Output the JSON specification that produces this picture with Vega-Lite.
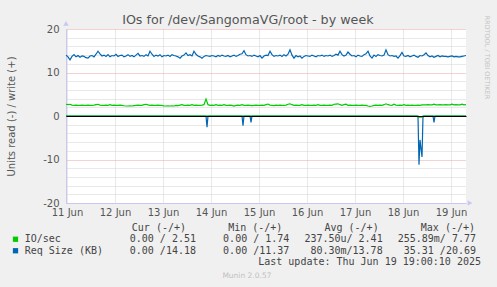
{
"$schema": "https://vega.github.io/schema/vega-lite/v6.json",
"background": "#f0f0f0",
"padding": {"left": 6, "top": 13, "right": 10, "bottom": 10},
"title": {"text": "IOs for /dev/SangomaVG/root - by week", "font": "DejaVu Sans", "fontSize": 12.7, "fontWeight": "normal", "color": "#555555", "anchor": "middle", "offset": -11.5},
"config": {"view": {"stroke": null}, "font": "DejaVu Sans"},
"bounds": "flush",
"spacing": 19,
"datasets": {
"writes": [
{"t":"2025-06-11T11:30","io":2.7,"req":14.0},{"t":"2025-06-11T12:30","io":2.6,"req":13.6},{"t":"2025-06-11T13:30","io":2.7,"req":12.9},{"t":"2025-06-11T14:30","io":2.5,"req":13.7},{"t":"2025-06-11T15:30","io":2.45,"req":14.1},{"t":"2025-06-11T16:30","io":2.5,"req":13.6},{"t":"2025-06-11T17:30","io":2.45,"req":13.9},{"t":"2025-06-11T18:30","io":2.45,"req":13.5},{"t":"2025-06-11T19:30","io":2.5,"req":13.8},{"t":"2025-06-11T20:30","io":2.45,"req":13.7},{"t":"2025-06-11T21:30","io":2.45,"req":13.4},{"t":"2025-06-11T22:30","io":2.5,"req":13.3},{"t":"2025-06-11T23:30","io":2.45,"req":13.8},
{"t":"2025-06-12T00:30","io":2.45,"req":13.9},{"t":"2025-06-12T01:30","io":2.5,"req":13.6},{"t":"2025-06-12T02:30","io":2.6,"req":14.2},{"t":"2025-06-12T03:30","io":2.7,"req":14.9},{"t":"2025-06-12T04:30","io":2.5,"req":14.3},{"t":"2025-06-12T05:30","io":2.45,"req":13.8},{"t":"2025-06-12T06:30","io":2.45,"req":14.0},{"t":"2025-06-12T07:30","io":2.5,"req":13.7},{"t":"2025-06-12T08:30","io":2.45,"req":14.1},{"t":"2025-06-12T09:30","io":2.6,"req":13.6},{"t":"2025-06-12T10:30","io":2.45,"req":13.9},{"t":"2025-06-12T11:30","io":2.5,"req":13.8},{"t":"2025-06-12T12:30","io":2.45,"req":14.2},{"t":"2025-06-12T13:30","io":2.45,"req":13.7},{"t":"2025-06-12T14:30","io":2.5,"req":13.9},{"t":"2025-06-12T15:30","io":2.45,"req":14.0},{"t":"2025-06-12T16:30","io":2.35,"req":13.6},{"t":"2025-06-12T17:30","io":2.3,"req":13.8},{"t":"2025-06-12T18:30","io":2.3,"req":14.1},{"t":"2025-06-12T19:30","io":2.35,"req":13.7},{"t":"2025-06-12T20:30","io":2.3,"req":13.9},{"t":"2025-06-12T21:30","io":2.4,"req":13.6},{"t":"2025-06-12T22:30","io":2.45,"req":14.0},{"t":"2025-06-12T23:30","io":2.5,"req":14.4},
{"t":"2025-06-13T00:30","io":2.45,"req":13.8},{"t":"2025-06-13T01:30","io":2.45,"req":13.9},{"t":"2025-06-13T02:30","io":2.6,"req":13.7},{"t":"2025-06-13T03:30","io":2.7,"req":14.1},{"t":"2025-06-13T04:30","io":2.55,"req":13.8},{"t":"2025-06-13T05:30","io":2.45,"req":14.9},{"t":"2025-06-13T06:30","io":2.5,"req":14.2},{"t":"2025-06-13T07:30","io":2.45,"req":13.7},{"t":"2025-06-13T08:30","io":2.45,"req":14.0},{"t":"2025-06-13T09:30","io":2.5,"req":13.8},{"t":"2025-06-13T10:30","io":2.45,"req":14.1},{"t":"2025-06-13T11:30","io":2.45,"req":13.6},{"t":"2025-06-13T12:30","io":2.3,"req":13.9},{"t":"2025-06-13T13:30","io":2.3,"req":13.8},{"t":"2025-06-13T14:30","io":2.35,"req":14.0},{"t":"2025-06-13T15:30","io":2.3,"req":13.7},{"t":"2025-06-13T16:30","io":2.35,"req":14.1},{"t":"2025-06-13T17:30","io":2.3,"req":13.9},{"t":"2025-06-13T18:30","io":2.45,"req":13.8},{"t":"2025-06-13T19:30","io":2.4,"req":13.6},{"t":"2025-06-13T20:30","io":2.5,"req":13.3},{"t":"2025-06-13T21:30","io":2.6,"req":13.8},{"t":"2025-06-13T22:30","io":2.45,"req":14.0},{"t":"2025-06-13T23:30","io":2.45,"req":14.5},
{"t":"2025-06-14T00:30","io":2.5,"req":13.9},{"t":"2025-06-14T01:30","io":2.45,"req":14.1},{"t":"2025-06-14T02:30","io":2.6,"req":13.8},{"t":"2025-06-14T03:30","io":2.45,"req":14.9},{"t":"2025-06-14T04:30","io":2.5,"req":14.2},{"t":"2025-06-14T05:30","io":2.45,"req":13.8},{"t":"2025-06-14T06:30","io":2.45,"req":13.6},{"t":"2025-06-14T07:30","io":2.5,"req":13.3},{"t":"2025-06-14T08:30","io":2.6,"req":13.7},{"t":"2025-06-14T09:30","io":3.9,"req":13.9},{"t":"2025-06-14T10:30","io":2.6,"req":13.8},{"t":"2025-06-14T11:30","io":2.45,"req":13.7},{"t":"2025-06-14T12:30","io":2.5,"req":13.9},{"t":"2025-06-14T13:30","io":2.45,"req":13.8},{"t":"2025-06-14T14:30","io":2.6,"req":13.6},{"t":"2025-06-14T15:30","io":2.45,"req":13.9},{"t":"2025-06-14T16:30","io":2.5,"req":13.7},{"t":"2025-06-14T17:30","io":2.45,"req":14.0},{"t":"2025-06-14T18:30","io":2.6,"req":13.8},{"t":"2025-06-14T19:30","io":2.45,"req":13.7},{"t":"2025-06-14T20:30","io":2.45,"req":13.9},{"t":"2025-06-14T21:30","io":2.5,"req":13.6},{"t":"2025-06-14T22:30","io":2.45,"req":13.8},{"t":"2025-06-14T23:30","io":2.3,"req":14.0},
{"t":"2025-06-15T00:30","io":2.45,"req":13.7},{"t":"2025-06-15T01:30","io":2.5,"req":13.9},{"t":"2025-06-15T02:30","io":2.45,"req":14.2},{"t":"2025-06-15T03:30","io":2.6,"req":14.3},{"t":"2025-06-15T04:30","io":2.45,"req":15.0},{"t":"2025-06-15T05:30","io":2.45,"req":14.1},{"t":"2025-06-15T06:30","io":2.5,"req":13.8},{"t":"2025-06-15T07:30","io":2.45,"req":13.9},{"t":"2025-06-15T08:30","io":2.4,"req":13.7},{"t":"2025-06-15T09:30","io":2.45,"req":14.0},{"t":"2025-06-15T10:30","io":2.5,"req":13.8},{"t":"2025-06-15T11:30","io":2.45,"req":13.6},{"t":"2025-06-15T12:30","io":2.45,"req":13.9},{"t":"2025-06-15T13:30","io":2.5,"req":13.3},{"t":"2025-06-15T14:30","io":2.45,"req":13.8},{"t":"2025-06-15T15:30","io":2.6,"req":14.0},{"t":"2025-06-15T16:30","io":2.75,"req":13.9},{"t":"2025-06-15T17:30","io":2.5,"req":14.9},{"t":"2025-06-15T18:30","io":2.45,"req":14.1},{"t":"2025-06-15T19:30","io":2.4,"req":13.7},{"t":"2025-06-15T20:30","io":2.5,"req":13.9},{"t":"2025-06-15T21:30","io":2.45,"req":13.8},{"t":"2025-06-15T22:30","io":2.5,"req":14.0},{"t":"2025-06-15T23:30","io":2.45,"req":13.7},
{"t":"2025-06-16T00:30","io":2.45,"req":14.1},{"t":"2025-06-16T01:30","io":2.5,"req":13.8},{"t":"2025-06-16T02:30","io":2.7,"req":14.2},{"t":"2025-06-16T03:30","io":2.8,"req":15.2},{"t":"2025-06-16T04:30","io":2.6,"req":14.0},{"t":"2025-06-16T05:30","io":2.45,"req":13.3},{"t":"2025-06-16T06:30","io":2.5,"req":13.9},{"t":"2025-06-16T07:30","io":2.45,"req":13.6},{"t":"2025-06-16T08:30","io":2.45,"req":13.8},{"t":"2025-06-16T09:30","io":2.6,"req":13.3},{"t":"2025-06-16T10:30","io":2.45,"req":13.7},{"t":"2025-06-16T11:30","io":2.45,"req":13.9},{"t":"2025-06-16T12:30","io":2.5,"req":13.8},{"t":"2025-06-16T13:30","io":2.45,"req":13.7},{"t":"2025-06-16T14:30","io":2.45,"req":14.0},{"t":"2025-06-16T15:30","io":2.5,"req":13.8},{"t":"2025-06-16T16:30","io":2.45,"req":13.6},{"t":"2025-06-16T17:30","io":2.6,"req":13.9},{"t":"2025-06-16T18:30","io":2.45,"req":13.8},{"t":"2025-06-16T19:30","io":2.45,"req":14.0},{"t":"2025-06-16T20:30","io":2.5,"req":13.7},{"t":"2025-06-16T21:30","io":2.45,"req":13.9},{"t":"2025-06-16T22:30","io":2.45,"req":13.8},{"t":"2025-06-16T23:30","io":2.5,"req":14.0},
{"t":"2025-06-17T00:30","io":2.45,"req":13.7},{"t":"2025-06-17T01:30","io":2.7,"req":13.9},{"t":"2025-06-17T02:30","io":2.75,"req":14.2},{"t":"2025-06-17T03:30","io":2.8,"req":14.0},{"t":"2025-06-17T04:30","io":2.6,"req":14.9},{"t":"2025-06-17T05:30","io":2.45,"req":14.1},{"t":"2025-06-17T06:30","io":2.6,"req":13.8},{"t":"2025-06-17T07:30","io":2.7,"req":14.0},{"t":"2025-06-17T08:30","io":2.45,"req":14.7},{"t":"2025-06-17T09:30","io":2.5,"req":14.2},{"t":"2025-06-17T10:30","io":2.45,"req":13.8},{"t":"2025-06-17T11:30","io":2.45,"req":13.9},{"t":"2025-06-17T12:30","io":2.5,"req":13.6},{"t":"2025-06-17T13:30","io":2.45,"req":14.0},{"t":"2025-06-17T14:30","io":2.45,"req":13.8},{"t":"2025-06-17T15:30","io":2.5,"req":13.7},{"t":"2025-06-17T16:30","io":2.45,"req":14.1},{"t":"2025-06-17T17:30","io":2.45,"req":14.3},{"t":"2025-06-17T18:30","io":2.3,"req":14.9},{"t":"2025-06-17T19:30","io":2.2,"req":13.8},{"t":"2025-06-17T20:30","io":2.3,"req":13.3},{"t":"2025-06-17T21:30","io":2.45,"req":14.0},{"t":"2025-06-17T22:30","io":2.5,"req":13.7},{"t":"2025-06-17T23:30","io":2.45,"req":14.1},
{"t":"2025-06-18T00:30","io":2.5,"req":13.9},{"t":"2025-06-18T01:30","io":2.45,"req":13.8},{"t":"2025-06-18T02:30","io":2.6,"req":14.0},{"t":"2025-06-18T03:30","io":2.8,"req":15.2},{"t":"2025-06-18T04:30","io":2.6,"req":14.1},{"t":"2025-06-18T05:30","io":2.5,"req":13.8},{"t":"2025-06-18T06:30","io":2.45,"req":13.9},{"t":"2025-06-18T07:30","io":2.7,"req":13.7},{"t":"2025-06-18T08:30","io":2.5,"req":13.8},{"t":"2025-06-18T09:30","io":2.45,"req":13.3},{"t":"2025-06-18T10:30","io":2.5,"req":13.9},{"t":"2025-06-18T11:30","io":2.45,"req":14.6},{"t":"2025-06-18T12:30","io":2.6,"req":13.8},{"t":"2025-06-18T13:30","io":2.45,"req":13.7},{"t":"2025-06-18T14:30","io":2.5,"req":13.9},{"t":"2025-06-18T15:30","io":2.45,"req":13.6},{"t":"2025-06-18T16:30","io":2.5,"req":13.8},{"t":"2025-06-18T17:30","io":2.45,"req":14.0},{"t":"2025-06-18T18:30","io":2.45,"req":13.7},{"t":"2025-06-18T19:30","io":2.5,"req":13.5},{"t":"2025-06-18T20:30","io":2.45,"req":13.9},{"t":"2025-06-18T21:30","io":2.55,"req":13.8},{"t":"2025-06-18T22:30","io":2.55,"req":14.1},{"t":"2025-06-18T23:30","io":2.55,"req":14.5},
{"t":"2025-06-19T00:30","io":2.6,"req":13.9},{"t":"2025-06-19T01:30","io":2.55,"req":13.6},{"t":"2025-06-19T02:30","io":2.55,"req":13.8},{"t":"2025-06-19T03:30","io":2.7,"req":13.5},{"t":"2025-06-19T04:30","io":2.55,"req":13.7},{"t":"2025-06-19T05:30","io":2.55,"req":13.9},{"t":"2025-06-19T06:30","io":2.6,"req":13.6},{"t":"2025-06-19T07:30","io":2.55,"req":13.8},{"t":"2025-06-19T08:30","io":2.55,"req":13.7},{"t":"2025-06-19T09:30","io":2.6,"req":13.7},{"t":"2025-06-19T10:30","io":2.55,"req":13.6},{"t":"2025-06-19T11:30","io":2.55,"req":13.7},{"t":"2025-06-19T12:30","io":2.7,"req":13.8},{"t":"2025-06-19T13:30","io":2.55,"req":13.6},{"t":"2025-06-19T14:30","io":2.6,"req":13.7},{"t":"2025-06-19T15:30","io":2.55,"req":13.6},{"t":"2025-06-19T16:30","io":2.55,"req":13.6},{"t":"2025-06-19T17:30","io":2.7,"req":13.7},{"t":"2025-06-19T18:30","io":2.55,"req":13.8},{"t":"2025-06-19T19:30","io":2.6,"req":13.9}
],
"reads": [
{"t":"2025-06-11T11:30","series":"req","value":0},{"t":"2025-06-14T09:30","series":"req","value":0},{"t":"2025-06-14T10:00","series":"req","value":-2.6},{"t":"2025-06-14T10:30","series":"req","value":0},{"t":"2025-06-15T03:30","series":"req","value":0},{"t":"2025-06-15T04:00","series":"req","value":-2.2},{"t":"2025-06-15T04:30","series":"req","value":0},{"t":"2025-06-15T07:30","series":"req","value":0},{"t":"2025-06-15T08:00","series":"req","value":-1.45},{"t":"2025-06-15T08:30","series":"req","value":0},{"t":"2025-06-18T19:30","series":"req","value":0},{"t":"2025-06-18T20:00","series":"req","value":-11.2},{"t":"2025-06-18T20:30","series":"req","value":-5.5},{"t":"2025-06-18T21:00","series":"req","value":-7.5},{"t":"2025-06-18T21:30","series":"req","value":-9.4},{"t":"2025-06-18T22:00","series":"req","value":0},{"t":"2025-06-19T03:00","series":"req","value":0},{"t":"2025-06-19T03:30","series":"req","value":-1.5},{"t":"2025-06-19T04:00","series":"req","value":0},{"t":"2025-06-19T19:30","series":"req","value":0},
{"t":"2025-06-11T11:30","series":"io","value":0},{"t":"2025-06-18T19:00","series":"io","value":0},{"t":"2025-06-18T19:30","series":"io","value":-0.25},{"t":"2025-06-18T22:00","series":"io","value":-0.25},{"t":"2025-06-18T22:30","series":"io","value":0},{"t":"2025-06-19T19:30","series":"io","value":0}
],
"legendValues": [
{"series":"IO/sec","stat":"Cur","value":"0.00 / 2.51"},{"series":"IO/sec","stat":"Min","value":"0.00 / 1.74"},{"series":"IO/sec","stat":"Avg","value":"237.50u/ 2.41"},{"series":"IO/sec","stat":"Max","value":"255.89m/ 7.77"},
{"series":"Req Size (KB)","stat":"Cur","value":"0.00 /14.18"},{"series":"Req Size (KB)","stat":"Min","value":"0.00 /11.37"},{"series":"Req Size (KB)","stat":"Avg","value":"80.30m/13.78"},{"series":"Req Size (KB)","stat":"Max","value":"35.31 /20.69"}
],
"legendHeaders": [
{"stat":"Cur","header":"Cur (-/+)"},{"stat":"Min","header":"Min (-/+)"},{"stat":"Avg","header":"Avg (-/+)"},{"stat":"Max","header":"Max (-/+)"}
],
"seriesList": [{"series":"IO/sec"},{"series":"Req Size (KB)"}],
"updateLine": [{"text":"Last update: Thu Jun 19 19:00:10 2025"}],
"one": [{}]
},
"vconcat": [
{
"width": 400, "height": 174,
"view": {"fill": "#ffffff", "stroke": null},
"resolve": {"axis": {"y": "independent"}},
"layer": [
{
"data": {"name": "reads"},
"mark": {"type": "line", "strokeWidth": 1.2},
"encoding": {
"x": {"field": "t", "type": "temporal",
 "scale": {"domain": [{"year":2025,"month":6,"date":11,"hours":11,"minutes":30},{"year":2025,"month":6,"date":19,"hours":19,"minutes":30}]},
 "axis": {"title": null,
  "values": [
   {"year":2025,"month":6,"date":11,"hours":12},{"year":2025,"month":6,"date":11,"hours":18},
   {"year":2025,"month":6,"date":12,"hours":0},{"year":2025,"month":6,"date":12,"hours":6},{"year":2025,"month":6,"date":12,"hours":12},{"year":2025,"month":6,"date":12,"hours":18},
   {"year":2025,"month":6,"date":13,"hours":0},{"year":2025,"month":6,"date":13,"hours":6},{"year":2025,"month":6,"date":13,"hours":12},{"year":2025,"month":6,"date":13,"hours":18},
   {"year":2025,"month":6,"date":14,"hours":0},{"year":2025,"month":6,"date":14,"hours":6},{"year":2025,"month":6,"date":14,"hours":12},{"year":2025,"month":6,"date":14,"hours":18},
   {"year":2025,"month":6,"date":15,"hours":0},{"year":2025,"month":6,"date":15,"hours":6},{"year":2025,"month":6,"date":15,"hours":12},{"year":2025,"month":6,"date":15,"hours":18},
   {"year":2025,"month":6,"date":16,"hours":0},{"year":2025,"month":6,"date":16,"hours":6},{"year":2025,"month":6,"date":16,"hours":12},{"year":2025,"month":6,"date":16,"hours":18},
   {"year":2025,"month":6,"date":17,"hours":0},{"year":2025,"month":6,"date":17,"hours":6},{"year":2025,"month":6,"date":17,"hours":12},{"year":2025,"month":6,"date":17,"hours":18},
   {"year":2025,"month":6,"date":18,"hours":0},{"year":2025,"month":6,"date":18,"hours":6},{"year":2025,"month":6,"date":18,"hours":12},{"year":2025,"month":6,"date":18,"hours":18},
   {"year":2025,"month":6,"date":19,"hours":0},{"year":2025,"month":6,"date":19,"hours":6},{"year":2025,"month":6,"date":19,"hours":12},{"year":2025,"month":6,"date":19,"hours":18}
  ],
  "labelExpr": "hours(datum.value) == 12 ? timeFormat(datum.value, '%d %b') : ''",
  "labelOverlap": false, "labelFlush": false,
  "labelFont": "DejaVu Sans", "labelFontSize": 10, "labelColor": "#555555", "labelPadding": 4.5,
  "ticks": false,
  "grid": true, "gridDash": [1, 1], "gridWidth": 1,
  "gridColor": {"condition": {"test": "hours(datum.value) == 0", "value": "#eaa5a5"}, "value": "#d2d2d2"},
  "domainColor": "#c8c8f0", "domainWidth": 1
 }},
"y": {"field": "value", "type": "quantitative",
 "scale": {"domain": [-20, 20], "nice": false},
 "axis": {"title": "Units read (-) / write (+)",
  "values": [-20,-18,-16,-14,-12,-10,-8,-6,-4,-2,0,2,4,6,8,10,12,14,16,18,20],
  "labelExpr": "datum.value % 10 == 0 ? (datum.value < 0 ? '-' + abs(datum.value) : '' + datum.value) : ''",
  "labelFont": "DejaVu Sans", "labelFontSize": 10, "labelColor": "#555555", "labelPadding": 7,
  "ticks": false,
  "grid": true, "gridDash": [1, 1], "gridWidth": 1,
  "gridColor": {"condition": {"test": "datum.value % 10 == 0", "value": "#eaa5a5"}, "value": "#d2d2d2"},
  "domainColor": "#c8c8f0", "domainWidth": 1,
  "titleFont": "DejaVu Sans", "titleFontSize": 10, "titleFontWeight": "normal", "titleColor": "#555555", "titlePadding": 26
 }},
"color": {"field": "series", "type": "nominal", "scale": {"domain": ["io", "req"], "range": ["#00cc00", "#0066b3"]}, "legend": null}
}
},
{
"data": {"name": "writes"},
"transform": [{"fold": ["io", "req"], "as": ["series", "value"]}],
"mark": {"type": "line", "strokeWidth": 1.2},
"encoding": {
"x": {"field": "t", "type": "temporal"},
"y": {"field": "value", "type": "quantitative", "axis": null},
"color": {"field": "series", "type": "nominal", "legend": null}
}
},
{
"data": {"name": "one"},
"mark": {"type": "point", "shape": "triangle-up", "filled": true, "size": 30, "color": "#c8c8f0", "opacity": 1},
"encoding": {
"x": {"datum": {"year":2025,"month":6,"date":11,"hours":11,"minutes":30}, "type": "temporal"},
"y": {"datum": 21.3, "type": "quantitative",
 "axis": {"orient": "right", "title": "RRDTOOL / TOBI OETIKER", "labels": false, "ticks": false, "domain": false, "grid": false,
  "titleFont": "DejaVu Sans", "titleFontSize": 6.5, "titleFontWeight": "normal", "titleColor": "#c4c4c4", "titleAngle": 90,
  "titleAnchor": "end", "titleAlign": "left", "titleY": -14, "titlePadding": 17}}
}
},
{
"data": {"name": "one"},
"mark": {"type": "point", "shape": "triangle-right", "filled": true, "size": 30, "color": "#c8c8f0", "opacity": 1},
"encoding": {
"x": {"datum": {"year":2025,"month":6,"date":19,"hours":21,"minutes":30}, "type": "temporal"},
"y": {"datum": -20, "type": "quantitative",
 "axis": {"orient": "left", "title": null, "values": [0], "labels": false, "ticks": false, "domain": false,
  "grid": true, "gridColor": "#000000", "gridWidth": 1, "gridDash": [], "zindex": 1}}
}
}
]
},
{
"width": 400, "height": 46,
"view": {"stroke": null},
"title": {"text": "Munin 2.0.57", "orient": "bottom", "anchor": "middle", "frame": "bounds", "font": "DejaVu Sans", "fontSize": 7.5, "fontWeight": "normal", "color": "#c0c0c0", "offset": 4},
"resolve": {"scale": {"x": "independent"}},
"layer": [
{
"data": {"name": "legendValues"},
"mark": {"type": "text", "font": "DejaVu Sans Mono", "fontSize": 10, "color": "#444444", "align": "right", "baseline": "middle"},
"encoding": {
"x": {"field": "stat", "type": "nominal", "scale": {"type": "point", "domain": ["Cur", "Min", "Avg", "Max"], "range": [130, 410], "padding": 0}, "axis": null},
"y": {"field": "series", "type": "nominal", "scale": {"type": "point", "domain": ["header", "IO/sec", "Req Size (KB)", "update"], "padding": 0.5}, "axis": null},
"text": {"field": "value"}
}
},
{
"data": {"name": "legendHeaders"},
"mark": {"type": "text", "font": "DejaVu Sans Mono", "fontSize": 10, "color": "#444444", "align": "right", "baseline": "middle"},
"encoding": {
"x": {"field": "stat", "type": "nominal", "scale": {"type": "point", "domain": ["Cur", "Min", "Avg", "Max"], "range": [120, 409], "padding": 0}, "axis": null},
"y": {"datum": "header", "type": "nominal", "axis": null},
"text": {"field": "header"}
}
},
{
"data": {"name": "seriesList"},
"mark": {"type": "point", "shape": "square", "filled": true, "size": 28, "opacity": 1, "strokeWidth": 0},
"encoding": {
"x": {"datum": "swatch", "type": "nominal", "scale": {"type": "point", "domain": ["swatch", "name"], "range": [-50.5, -41.3], "padding": 0}, "axis": null},
"y": {"field": "series", "type": "nominal", "axis": null},
"color": {"field": "series", "type": "nominal", "scale": {"domain": ["IO/sec", "Req Size (KB)"], "range": ["#00cc00", "#0066b3"]}, "legend": null}
}
},
{
"data": {"name": "seriesList"},
"mark": {"type": "text", "font": "DejaVu Sans Mono", "fontSize": 10, "color": "#444444", "align": "left", "baseline": "middle"},
"encoding": {
"x": {"datum": "name", "type": "nominal", "scale": {"type": "point", "domain": ["swatch", "name"], "range": [-50.5, -41.3], "padding": 0}, "axis": null},
"y": {"field": "series", "type": "nominal", "axis": null},
"text": {"field": "series"}
}
},
{
"data": {"name": "updateLine"},
"mark": {"type": "text", "font": "DejaVu Sans Mono", "fontSize": 10, "color": "#444444", "align": "right", "baseline": "middle", "dx": 5},
"encoding": {
"x": {"datum": "Max", "type": "nominal", "scale": {"type": "point", "domain": ["Cur", "Min", "Avg", "Max"], "range": [130, 410], "padding": 0}, "axis": null},
"y": {"datum": "update", "type": "nominal", "axis": null},
"text": {"field": "text"}
}
}
]
}
]
}
